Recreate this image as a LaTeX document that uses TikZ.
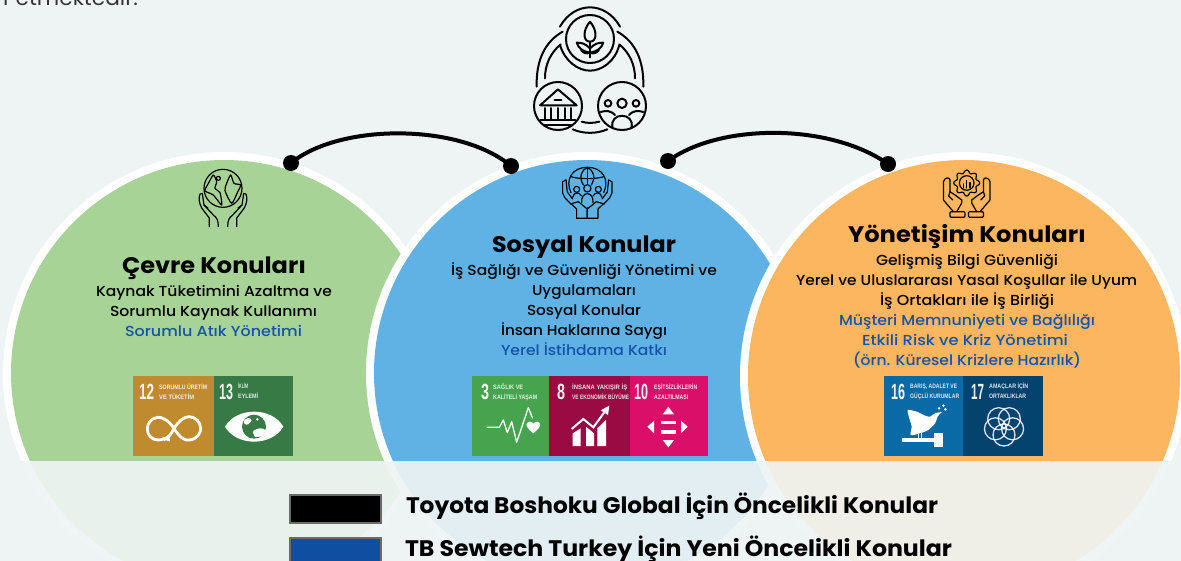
\documentclass[tikz,border=0pt]{standalone}
\usepackage{fontspec}
\usepackage{graphicx}
\setmainfont{Poppins}
\newfontfamily\popB{Poppins Bold}
\newfontfamily\popM{Poppins Medium}
\newfontfamily\tileF{Liberation Sans Bold}
\newcommand\ftitle{\popB\fontsize{22.5}{24}\selectfont}
\newcommand\fbody{\popM\fontsize{14.5}{16}\selectfont}
\newcommand\fnum{\tileF\fontsize{22}{24}\selectfont}
\newcommand\fcap{\tileF\fontsize{6.4}{7}\selectfont}
\newsavebox\fitbox
\newcommand\fitw[2]{\sbox\fitbox{#2}\pgfmathsetmacro\fitr{#1/\wd\fitbox}\scalebox{\fitr}[1]{\usebox\fitbox}}
% name, centre x, baseline y, width, colour, text
\newcommand\lbl[6]{\node[anchor=base,inner sep=0pt,text=#5] (#1) at (#2,#3) {\fitw{#4}{#6}};}
% tile text: name, left x, baseline, width, text
\newcommand\tnum[4]{\node[anchor=base west,inner sep=0pt,text=white,text opacity=.92] (#1) at (#2,399) {\fitw{#3}{\fnum #4}};}
\newcommand\tcap[5]{\node[anchor=base west,inner sep=0pt,text=white,text opacity=.85] (#1) at (#2,#3) {\fitw{#4}{\fcap #5}};}
\definecolor{bgc}{HTML}{EEF4F4}
\definecolor{cgreen}{HTML}{A7D397}
\definecolor{cblue}{HTML}{60B2E5}
\definecolor{corange}{HTML}{FBB65F}
\definecolor{tblue}{HTML}{1553A8}
\definecolor{legblue}{HTML}{0F4EA0}
\definecolor{sdgA}{HTML}{BF8B2E}
\definecolor{sdgB}{HTML}{377A45}
\definecolor{sdgC}{HTML}{47A34D}
\definecolor{sdgD}{HTML}{9B0B43}
\definecolor{sdgE}{HTML}{DA0F6A}
\definecolor{sdgF}{HTML}{096AA5}
\definecolor{sdgG}{HTML}{05436F}
\tikzset{
  zoomunits/.style={x=.33333pt,y=-.33333pt},
  dot/.style={circle,fill=black,minimum size=16pt,inner sep=0pt},
  link/.style={line width=4pt,black},
  ico/.style={black,line width=1.2pt,line cap=round,line join=round},
  icob/.style={black,line width=2pt,line cap=round,line join=round},
  legbox/.style={draw=black!58,line width=2.4pt,inner sep=0pt,anchor=north west,minimum width=91pt,minimum height=27.5pt},
}
\newcommand\ehand{%
  \draw[ico] (-20.7,193.5) -- (-23,194) .. controls (-24.5,198) and (-24,203) .. (-21.3,208) -- (-13.7,218) -- (-13.7,226.7);
  \draw[ico] (-20.7,193.5) -- (-19,205) -- (-9.7,215) .. controls (-6,218) and (-4.7,220) .. (-4.7,226.7);
  \draw[ico] (-19,205) -- (-15,208);
}
\newcommand\bhand{%
  \draw[ico] (-21.3,180) -- (-24.7,181.7) -- (-24.7,193) .. controls (-23,200) and (-15,204) .. (-10.7,209) -- (-10.7,218.3) -- (0,218.3) -- (0,208);
  \draw[ico] (-21.3,180) -- (-20,192) -- (-14.7,199);
  \draw[ico] (-17,204) -- (-9,201.7) -- (0,209);
}
\newcommand\ohand{%
  \draw[ico] (-16.7,180) .. controls (-17,177) and (-22,177) .. (-23.3,181.7) -- (-23.3,200) -- (-13.3,211.7);
  \draw[ico] (-16.7,180) -- (-16.7,191.7) -- (-11.7,195) -- (-5,200) -- (-5,203) -- (-10,211.7);
  \draw[ico,rounded corners=1pt] (-16.7,211.7) rectangle (-1.7,217.3);
  \draw[ico] (-16.7,191.7) -- (-18,196) -- (-14,200);
}
\begin{document}
\begin{tikzpicture}[x=1pt,y=-1pt]
\useasboundingbox (0,0) rectangle (1181,560);
\clip (0,0) rectangle (1181,560);
\fill[bgc] (-5,-5) rectangle (1186,570);

% clipped line of running text
\lbl{toptext}{70.5}{5}{135}{black!80}{\fontsize{21}{22}\selectfont Petmektedir.}

% discs
\fill[white] (224,373) circle[radius=221];
\fill[cgreen] (224,373) circle[radius=213];
\fill[white] (587,373) circle[radius=221];
\fill[cblue] (587,373) circle[radius=213];
\fill[white] (964,376) circle[radius=224];
\fill[corange] (964,376) circle[radius=216];
\fill[bgc,opacity=.92] (-5,461) rectangle (1186,600);

% connectors
\node[dot] (d1) at (291,163) {};
\node[dot] (d2) at (511,166) {};
\node[dot] (d3) at (668,161) {};
\node[dot] (d4) at (888,164) {};
\draw[link] (d1.center) .. controls (340,123) and (460,123) .. (d2.center);
\draw[link] (d3.center) .. controls (720,123) and (830,123) .. (d4.center);

% top icon
\begin{scope}[shift={(480,0)},zoomunits]
  \draw[icob] (330,117) circle[radius=72] (234,318) circle[radius=72] (426,318) circle[radius=72];
  \draw[icob] (240,80) .. controls (262,40) and (298,22) .. (330,22) .. controls (362,22) and (398,40) .. (420,80);
  \draw[icob] (240,135) .. controls (255,185) and (295,212) .. (330,212) .. controls (365,212) and (405,185) .. (418,135);
  \draw[icob] (248,95) .. controls (195,125) and (168,180) .. (170,260);
  \draw[icob] (242,133) .. controls (210,160) and (195,195) .. (195,235);
  \draw[icob] (412,95) .. controls (465,125) and (492,180) .. (490,260);
  \draw[icob] (418,133) .. controls (450,160) and (465,195) .. (465,235);
  \draw[icob] (305,365) .. controls (320,370) and (340,370) .. (358,365);
  \draw[icob] (278,388) .. controls (310,402) and (350,402) .. (382,388);
  % plant
  \draw[icob] (330,65) .. controls (308,90) and (308,125) .. (330,125) .. controls (352,125) and (352,90) .. (330,65);
  \draw[icob] (330,125) -- (330,172);
  \draw[icob] (330,145) .. controls (315,130) and (305,128) .. (290,128) .. controls (295,145) and (310,155) .. (330,158) .. controls (320,162) and (310,160) .. (303,150);
  \draw[icob] (330,145) .. controls (345,130) and (355,128) .. (370,128) .. controls (365,145) and (350,155) .. (330,158) .. controls (340,162) and (350,160) .. (357,150);
  % bank
  \draw[icob] (234,268) -- (180,316) -- (290,316) -- cycle;
  \draw[icob] (224,300) -- (244,300);
  \foreach \cx in {195,214,234,254,273} {\draw[icob] (\cx,324) -- (\cx,356);}
  \draw[icob] (182,360) -- (286,360);
  \draw[icob] (192,374) -- (276,374);
  % people
  \draw[icob] (384,310) circle[radius=10] (426,310) circle[radius=14] (468,310) circle[radius=10];
  \draw[icob] (398,384) .. controls (385,335) and (467,335) .. (454,384);
  \draw[icob] (362,336) .. controls (378,330) and (395,333) .. (405,345);
  \draw[icob] (490,336) .. controls (474,330) and (457,333) .. (447,345);
\end{scope}

% environment icon
\begin{scope}[zoomunits]
  \draw[ico] (669,565) circle[radius=57];
  \draw[ico] plot[smooth cycle,tension=.4] coordinates {(640,525) (628,545) (615,572) (640,585) (665,615) (660,578) (645,565) (650,545)};
  \draw[ico] plot[smooth cycle,tension=.4] coordinates {(692,525) (680,550) (675,572) (695,610) (712,578) (722,555) (702,550)};
  \draw[ico] (655,535) circle[radius=6];
\end{scope}
\begin{scope}[shift={(223,0)}] \ehand \end{scope}
\begin{scope}[shift={(223,0)},xscale=-1] \ehand \end{scope}

% social icon
\begin{scope}[shift={(480,0)},zoomunits]
  \draw[ico] (273,578) .. controls (255,540) and (275,502) .. (322,502) .. controls (369,502) and (389,540) .. (371,578);
  \draw[ico] (272,530) .. controls (300,538) and (344,538) .. (372,530);
  \draw[ico] (322,502) -- (322,550);
  \draw[ico] (310,555) .. controls (295,530) and (305,510) .. (322,502) .. controls (339,510) and (349,530) .. (334,555);
  \draw[ico] (290,568) circle[radius=9] (322,565) circle[radius=11] (355,568) circle[radius=9];
  \draw[ico] (278,592) .. controls (282,575) and (298,575) .. (305,588);
  \draw[ico] (366,592) .. controls (362,575) and (346,575) .. (339,588);
  \draw[ico] (305,608) .. controls (302,572) and (342,572) .. (339,608);
\end{scope}
\begin{scope}[shift={(587.3,0)}] \bhand \end{scope}
\begin{scope}[shift={(587.3,0)},xscale=-1] \bhand \end{scope}

% governance icon
\begin{scope}[shift={(966.7,183)}]
  \draw[ico] plot[smooth cycle,samples=64,domain=0:354.375] ({\x}:{11.5+1.5*cos(8*\x)});
  \draw[ico] (0,0) circle[radius=7.3];
  \foreach \cx/\cy in {-3.2/1,0/-2.5,3.2/-.5} {\draw[ico] (\cx,5) -- (\cx,\cy);}
\end{scope}
\begin{scope}[shift={(966.7,0)}] \ohand \end{scope}
\begin{scope}[shift={(966.7,0)},xscale=-1] \ohand \end{scope}

% texts: environment
\lbl{ga}{214}{273}{184}{black}{\ftitle Çevre Konuları}
\lbl{gb}{214}{296}{236}{black}{\fbody Kaynak Tüketimini Azaltma ve}
\lbl{gc}{213.5}{316}{207}{black}{\fbody Sorumlu Kaynak Kullanımı}
\lbl{gd}{213.5}{336}{177}{tblue}{\fbody Sorumlu Atık Yönetimi}
% texts: social
\lbl{ba}{584}{252}{184}{black}{\ftitle Sosyal Konular}
\lbl{bb}{584}{275}{266}{black}{\fbody İş Sağlığı ve Güvenliği Yönetimi ve}
\lbl{bc}{584}{295}{104}{black}{\fbody Uygulamaları}
\lbl{bd}{584}{315}{114}{black}{\fbody Sosyal Konular}
\lbl{be}{584}{335}{166}{black}{\fbody İnsan Haklarına Saygı}
\lbl{bf}{584}{355}{166}{tblue}{\fbody Yerel İstihdama Katkı}
% texts: governance
\lbl{oa}{967}{242}{238}{black}{\ftitle Yönetişim Konuları}
\lbl{ob}{967}{265}{182}{black}{\fbody Gelişmiş Bilgi Güvenliği}
\lbl{oc}{966.5}{285}{341}{black}{\fbody Yerel ve Uluslararası Yasal Koşullar ile Uyum}
\lbl{od}{967}{305}{174}{black}{\fbody İş Ortakları ile İş Birliği}
\lbl{oe}{967}{325}{256}{tblue}{\fbody Müşteri Memnuniyeti ve Bağlılığı}
\lbl{of}{965}{345}{206}{tblue}{\fbody Etkili Risk ve Kriz Yönetimi}
\lbl{og}{967}{365}{228}{tblue}{\fbody (örn. Küresel Krizlere Hazırlık)}

% SDG tiles
\fill[sdgA] (133,376) rectangle (214,456);
\fill[sdgB] (214,376) rectangle (293,456);
\fill[sdgC] (472,376) rectangle (549,456);
\fill[sdgD] (549,376) rectangle (630,456);
\fill[sdgE] (630,376) rectangle (708,456);
\fill[sdgF] (884,376) rectangle (963,456);
\fill[sdgG] (963,376) rectangle (1043,456);

\tnum{n12}{139}{15}{12}
\tcap{c12a}{159}{389.5}{48}{SORUMLU ÜRETİM}
\tcap{c12b}{159}{399}{35}{VE TÜKETİM}
\tnum{n13}{219}{14}{13}
\tcap{c13a}{238}{388.5}{10}{İKLİM}
\tcap{c13b}{238}{398}{20}{EYLEMİ}
\tnum{n3}{481}{8}{3}
\tcap{c3a}{493}{389.5}{30}{SAĞLIK VE}
\tcap{c3b}{493}{399}{44}{KALİTELİ YAŞAM}
\tnum{n8}{557}{8}{8}
\tcap{c8a}{572}{389.5}{55}{İNSANA YAKIŞIR İŞ}
\tcap{c8b}{572}{399}{57}{VE EKONOMİK BÜYÜME}
\tnum{n10}{634}{14}{10}
\tcap{c10a}{654}{389.5}{43}{EŞİTSİZLİKLERİN}
\tcap{c10b}{654}{399}{34}{AZALTILMASI}
\tnum{n16}{891}{14}{16}
\tcap{c16a}{910}{388.5}{47}{BARIŞ, ADALET VE}
\tcap{c16b}{910}{398}{49}{GÜÇLÜ KURUMLAR}
\tnum{n17}{971}{13}{17}
\tcap{c17a}{989}{388.5}{39}{AMAÇLAR İÇİN}
\tcap{c17b}{989}{398}{37}{ORTAKLIKLAR}

% tile 12
\begin{scope}[shift={(120,360)},zoomunits]
  \draw[white,line width=2.8pt,line cap=round] (162,205) .. controls (145,180) and (125,170) .. (112,172) .. controls (92,175) and (82,192) .. (82,207) .. controls (82,225) and (95,240) .. (115,240) .. controls (122,240) and (128,238) .. (132,235);
  \draw[white,line width=2.8pt] (130,240) .. controls (145,235) and (155,220) .. (162,205) .. controls (175,185) and (190,170) .. (207,170) .. controls (225,170) and (242,185) .. (242,205) .. controls (242,220) and (232,238) .. (207,240) .. controls (195,242) and (180,235) .. (162,205);
  \fill[white] (148,222) -- (150,244) -- (126,238) -- cycle;
\end{scope}
% tile 13
\begin{scope}[shift={(120,360)},zoomunits]
  \fill[white] (315,200) .. controls (350,140) and (455,140) .. (490,200) .. controls (455,260) and (350,260) .. (315,200) -- cycle;
  \fill[sdgB] (402,200) circle[radius=36];
  \fill[white] plot[smooth cycle,tension=.5] coordinates {(372,182) (385,174) (395,180) (385,193) (374,192)};
  \fill[white] plot[smooth cycle,tension=.5] coordinates {(400,213) (420,205) (436,210) (425,228) (405,230)};
  \fill[white] (412,178) circle[radius=4];
\end{scope}
% tile 3
\begin{scope}[shift={(460,365)},zoomunits]
  \draw[white,line width=1.3pt,line join=round] (80,187) -- (118,187) -- (130,165) -- (142,203) -- (155,170) -- (170,232) -- (205,128) -- (218,160);
  \fill[white] (220,205) .. controls (205,192) and (198,185) .. (200,177) .. controls (203,168) and (215,168) .. (220,176) .. controls (225,168) and (237,168) .. (240,177) .. controls (242,185) and (235,192) .. (220,205) -- cycle;
\end{scope}
% tile 8
\begin{scope}[shift={(460,365)},zoomunits]
  \fill[white] (338,205) -- (362,190) -- (362,243) -- (338,243) -- cycle;
  \fill[white] (378,185) -- (402,205) -- (402,243) -- (378,243) -- cycle;
  \fill[white] (412,190) -- (438,165) -- (438,243) -- (412,243) -- cycle;
  \draw[white,line width=2pt] (335,192) -- (370,162) -- (400,187) -- (438,135);
  \fill[white] (448,122) -- (444,150) -- (422,136) -- cycle;
\end{scope}
% tile 10
\begin{scope}[shift={(460,365)},zoomunits]
  \fill[white] (625,125) -- (642,148) -- (608,148) -- cycle;
  \fill[white] (625,247) -- (642,225) -- (608,225) -- cycle;
  \fill[white] (562,185) -- (582,167) -- (582,205) -- cycle;
  \fill[white] (683,185) -- (663,167) -- (663,205) -- cycle;
  \fill[white] (602,167) rectangle (647,178);
  \fill[white] (602,195) rectangle (647,206);
\end{scope}
% tile 16
\begin{scope}[shift={(870,365)},zoomunits]
  \fill[white] plot[smooth cycle,tension=.4] coordinates {(113,135) (140,140) (165,152) (180,155) (195,145) (212,142) (203,155) (195,175) (175,195) (150,205) (122,210) (125,185) (118,160)};
  \fill[white] (207,130) circle[radius=4] (220,122) circle[radius=4] (226,133) circle[radius=4] (212,143) circle[radius=3];
  \fill[white] (97,220) rectangle (192,230);
  \fill[white] (192,203) rectangle (220,246);
  \draw[white,line width=.9pt] (145,205) -- (145,220) (155,205) -- (155,220);
\end{scope}
% tile 17
\begin{scope}[shift={(1004,426)}]
  \foreach \a in {18,90,162,234,306}
    {\draw[white,line width=1.3pt,opacity=.85] (\a:9) circle[radius=11];}
\end{scope}

% legend
\node[legbox,fill=black] (lega) at (289,494) {};
\node[legbox,fill=legblue] (legb) at (289,536.5) {};
\lbl{ta}{672}{513}{532}{black}{\ftitle Toyota Boshoku Global İçin Öncelikli Konular}
\lbl{tb}{678.5}{556}{547}{black}{\ftitle TB Sewtech Turkey İçin Yeni Öncelikli Konular}
\end{tikzpicture}
\end{document}
